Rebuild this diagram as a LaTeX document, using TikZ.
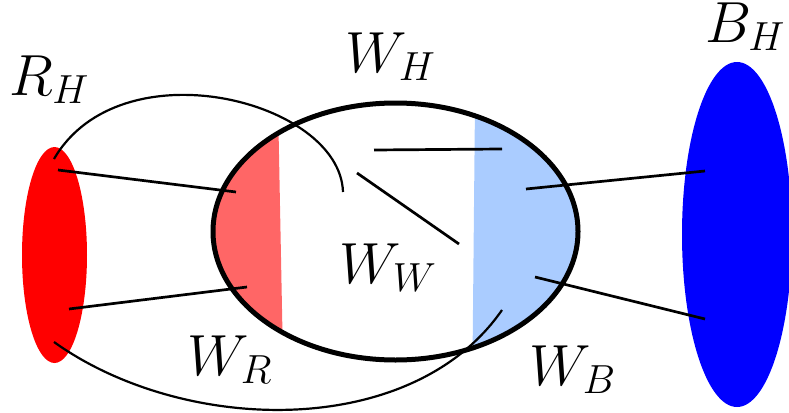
\documentclass[tikz,border=0pt]{standalone}
\usepackage{fix-cm}
\definecolor{wred}{RGB}{255,102,102}
\definecolor{wblue}{RGB}{170,204,255}
\begin{document}
\begin{tikzpicture}[x=1pt,y=-1pt,
  lbl/.style={anchor=base west, inner sep=0pt, font=\fontsize{58}{62}\selectfont},
  link/.style={line width=2.7pt},
  arcline/.style={line width=2.2pt},
  rim/.style={line width=5pt}]
\useasboundingbox (0,0) rectangle (789,412);
% side sets
\fill[red] (54.5,255) ellipse [x radius=32.5, y radius=108];
\fill[blue] (737,234.5) ellipse [x radius=55, y radius=172.5];
% central set with coloured parts
\begin{scope}
  \clip (395.5,231.5) ellipse [x radius=182.5, y radius=128.5];
  \fill[wred] (0,0) -- (276,0) -- (284,412) -- (0,412) -- cycle;
  \fill[wblue] (476,0) -- (789,0) -- (789,412) -- (472,412) -- cycle;
\end{scope}
\draw[rim] (395.5,231.5) ellipse [x radius=182.5, y radius=128.5];
% end points
\coordinate (r1) at (58,170);   \coordinate (wr1) at (236,192);
\coordinate (r2) at (69,309);   \coordinate (wr2) at (247,287);
\coordinate (b1) at (705,171);  \coordinate (wb1) at (526,189);
\coordinate (b2) at (705,319);  \coordinate (wb2) at (535,277);
\coordinate (h1) at (374,150);  \coordinate (h2) at (502,149);
\coordinate (d1) at (357,173);  \coordinate (d2) at (459,244);
\coordinate (ta) at (54,159);   \coordinate (tb) at (343,192);
\coordinate (ba) at (54,342);   \coordinate (bb) at (502,310);
% connectors
\draw[link] (r1) -- (wr1);
\draw[link] (r2) -- (wr2);
\draw[link] (wb1) -- (b1);
\draw[link] (wb2) -- (b2);
\draw[link] (h1) -- (h2);
\draw[link] (d1) -- (d2);
\draw[arcline] (ta) .. controls (120,45) and (340,100) .. (tb);
\draw[arcline] (ba) .. controls (184,435) and (412,440) .. (bb);
% labels
\node[lbl] (lRH) at (9,95) {$R_H$};
\node[lbl] (lWH) at (345,72) {$W_H$};
\node[lbl] (lWW) at (339,283) {$W_W$};
\node[lbl] (lWR) at (187,375) {$W_R$};
\node[lbl] (lWB) at (529,385) {$W_B$};
\node[lbl] (lBH) at (705,42) {$B_H$};
\end{tikzpicture}
\end{document}
